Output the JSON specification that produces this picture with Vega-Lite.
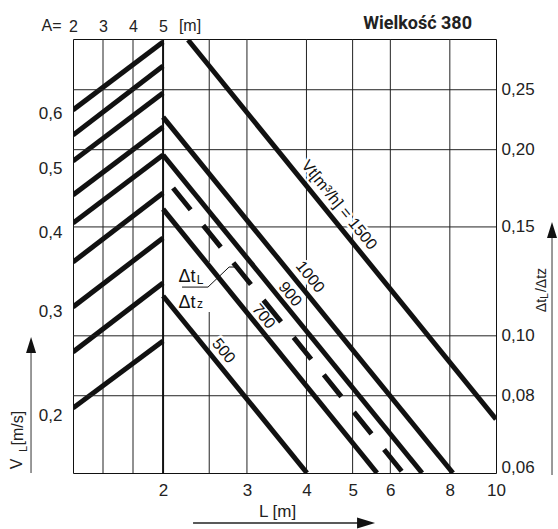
{
"$schema":"https://vega.github.io/schema/vega-lite/v6.json",
"width":423,"height":434,
"autosize":{"type":"none"},
"padding":{"left":73,"top":39,"right":62,"bottom":56},
"background":"white",
"config":{"view":{"stroke":"#111","strokeWidth":1},"axis":{"domain":false,"ticks":false,"tickSize":0,"grid":false,"labelFont":"Liberation Sans","labelFontSize":17,"labelColor":"#222","title":null}},
"resolve":{"scale":{"x":"independent","y":"independent"}},
"layer":[
{"layer":[
 {"data":{"values":[{"A":3},{"A":4}]},"mark":{"type":"rule","color":"#222","strokeWidth":1},
  "encoding":{"x":{"field":"A","type":"quantitative","scale":{"domain":[2,16.1],"nice":false,"zero":false}}}},
 {"data":{"values":[
  {"id":1,"A":2,"V":0.6075},{"id":1,"A":5,"V":0.755},
  {"id":2,"A":2,"V":0.5594},{"id":2,"A":5,"V":0.7},
  {"id":3,"A":2,"V":0.5128},{"id":3,"A":5,"V":0.642},
  {"id":4,"A":2,"V":0.4566},{"id":4,"A":5,"V":0.5745},
  {"id":5,"A":2,"V":0.414},{"id":5,"A":5,"V":0.5233},
  {"id":6,"A":2,"V":0.3601},{"id":6,"A":5,"V":0.4597},
  {"id":7,"A":2,"V":0.3051},{"id":7,"A":5,"V":0.3926},
  {"id":8,"A":2,"V":0.257},{"id":8,"A":5,"V":0.3335},
  {"id":9,"A":2,"V":0.2058},{"id":9,"A":5,"V":0.2681}]},
  "mark":{"type":"line","color":"#111","strokeWidth":5,"clip":true},
  "encoding":{
   "x":{"field":"A","type":"quantitative","scale":{"domain":[2,16.1],"nice":false,"zero":false},"axis":{"orient":"top","values":[2,3,4,5],"labelPadding":8,"labelBaseline":"alphabetic","labelFlush":false,"labelFontSize":16,"title":null}},
   "y":{"field":"V","type":"quantitative","scale":{"type":"pow","exponent":0.2,"domain":[0.157,0.762],"nice":false,"zero":false},"axis":{"orient":"left","values":[0.2,0.3,0.4,0.5,0.6],"labelExpr":"replace(format(datum.value, '.1f'), '.', ',')","labelPadding":11,"title":null}},
   "detail":{"field":"id","type":"nominal"}}},
 {"data":{"values":[{"t":"A=","A":1.283,"V":0.7813},{"t":"[m]","A":5.9,"V":0.7813}]},
  "mark":{"type":"text","font":"Liberation Sans","fontSize":16,"baseline":"alphabetic","color":"#222"},
  "encoding":{
   "x":{"field":"A","type":"quantitative","scale":{"domain":[2,16.1],"nice":false,"zero":false}},
   "y":{"field":"V","type":"quantitative","scale":{"type":"pow","exponent":0.2,"domain":[0.157,0.762],"nice":false,"zero":false}},
   "text":{"field":"t","type":"nominal"}}}
]},
{"layer":[
 {"data":{"values":[{"r":0.25},{"r":0.2},{"r":0.15},{"r":0.1},{"r":0.08}]},"mark":{"type":"rule","color":"#222","strokeWidth":1},
  "encoding":{"y":{"field":"r","type":"quantitative","scale":{"type":"log","domain":[0.06,0.302],"nice":false},"axis":{"orient":"right","values":[0.06,0.08,0.1,0.15,0.2,0.25],"labelExpr":"replace(format(datum.value, '.2f'), '.', ',')","labelPadding":5,"labelFlush":true,"labelFlushOffset":3,"title":null}}}},
 {"data":{"values":[{"L":2.5},{"L":3},{"L":4},{"L":5},{"L":6},{"L":8}]},"mark":{"type":"rule","color":"#222","strokeWidth":1},
  "encoding":{"x":{"field":"L","type":"quantitative","scale":{"type":"log","domain":[1.294,10],"nice":false},"axis":{"orient":"bottom","values":[2,3,4,5,6,8,10],"labelPadding":22,"labelBaseline":"alphabetic","labelFlush":false,"title":null}}}},
 {"data":{"values":[{"L":2}]},"mark":{"type":"rule","color":"#111","strokeWidth":2},
  "encoding":{"x":{"field":"L","type":"quantitative","scale":{"type":"log","domain":[1.294,10],"nice":false}}}},
 {"data":{"values":[{"L":2.13,"L2":2.559,"r":0.1316,"r2":0.1093}]},"mark":{"type":"rect","color":"white"},
  "encoding":{"x":{"field":"L","type":"quantitative","scale":{"type":"log","domain":[1.294,10],"nice":false}},"x2":{"field":"L2"},
   "y":{"field":"r","type":"quantitative","scale":{"type":"log","domain":[0.06,0.302],"nice":false}},"y2":{"field":"r2"}}},
 {"data":{"name":"labels","values":[{"t":"Vt[m³/h] = 1500","L":4.684,"r":0.1627},{"t":"1000","L":4.07,"r":0.1245},{"t":"900","L":3.695,"r":0.1168},{"t":"700","L":3.251,"r":0.1075},{"t":"500","L":2.68,"r":0.0945}]},
  "mark":{"type":"text","font":"Liberation Sans","fontSize":16,"angle":51,"fill":"white","stroke":"white","strokeWidth":5,"strokeJoin":"round"},
  "encoding":{"x":{"field":"L","type":"quantitative","scale":{"type":"log","domain":[1.294,10],"nice":false}},
   "y":{"field":"r","type":"quantitative","scale":{"type":"log","domain":[0.06,0.302],"nice":false}},"text":{"field":"t","type":"nominal"}}},
 {"data":{"values":[
  {"s":"1500","L":2.257,"r":0.3009},{"s":"1500","L":10,"r":0.0733},
  {"s":"1000","L":2,"r":0.2258},{"s":"1000","L":8.12,"r":0.06},
  {"s":"900","L":2,"r":0.1961},{"s":"900","L":6.996,"r":0.06},
  {"s":"700","L":2,"r":0.1603},{"s":"700","L":5.627,"r":0.06},
  {"s":"500","L":2,"r":0.116},{"s":"500","L":4.01,"r":0.06}]},
  "mark":{"type":"line","color":"#111","strokeWidth":5,"clip":true},
  "encoding":{"x":{"field":"L","type":"quantitative","scale":{"type":"log","domain":[1.294,10],"nice":false}},
   "y":{"field":"r","type":"quantitative","scale":{"type":"log","domain":[0.06,0.302],"nice":false}},"detail":{"field":"s","type":"nominal"}}},
 {"data":{"values":[{"L":2.099,"r":0.1734},{"L":6.38,"r":0.06}]},
  "mark":{"type":"line","color":"#111","strokeWidth":5,"strokeDash":[28,20],"clip":true},
  "encoding":{"x":{"field":"L","type":"quantitative","scale":{"type":"log","domain":[1.294,10],"nice":false}},
   "y":{"field":"r","type":"quantitative","scale":{"type":"log","domain":[0.06,0.302],"nice":false}}}},
 {"data":{"values":[{"o":1,"L":2.192,"r":0.1199},{"o":2,"L":2.485,"r":0.1199},{"o":3,"L":2.752,"r":0.1292},{"o":4,"L":2.846,"r":0.1292}]},
  "mark":{"type":"line","color":"#111","strokeWidth":1},
  "encoding":{"x":{"field":"L","type":"quantitative","scale":{"type":"log","domain":[1.294,10],"nice":false}},
   "y":{"field":"r","type":"quantitative","scale":{"type":"log","domain":[0.06,0.302],"nice":false}},"order":{"field":"o"}}},
 {"data":{"values":[{"L":1.0564,"r":0.09488,"r2":0.06},{"L":13.11,"r":0.14501,"r2":0.05955}]},
  "mark":{"type":"rule","color":"#777","strokeWidth":1.5},
  "encoding":{"x":{"field":"L","type":"quantitative","scale":{"type":"log","domain":[1.294,10],"nice":false}},
   "y":{"field":"r","type":"quantitative","scale":{"type":"log","domain":[0.06,0.302],"nice":false}},"y2":{"field":"r2"}}},
 {"data":{"values":[{"L":2.312,"L2":5.3,"r":0.0498}]},
  "mark":{"type":"rule","color":"#222","strokeWidth":1.5},
  "encoding":{"x":{"field":"L","type":"quantitative","scale":{"type":"log","domain":[1.294,10],"nice":false}},"x2":{"field":"L2"},
   "y":{"field":"r","type":"quantitative","scale":{"type":"log","domain":[0.06,0.302],"nice":false}}}},
 {"data":{"values":[{"L":1.0564,"r":0.09594},{"L":13.11,"r":0.14719}]},
  "mark":{"type":"point","shape":"M0,-1L0.5,0.6L-0.5,0.6Z","size":400,"filled":true,"color":"#111","opacity":1},
  "encoding":{"x":{"field":"L","type":"quantitative","scale":{"type":"log","domain":[1.294,10],"nice":false}},
   "y":{"field":"r","type":"quantitative","scale":{"type":"log","domain":[0.06,0.302],"nice":false}}}},
 {"data":{"values":[{"L":5.362,"r":0.0498}]},
  "mark":{"type":"point","shape":"M-1,-0.55L0.8,0L-1,0.55Z","size":400,"filled":true,"color":"#111","opacity":1},
  "encoding":{"x":{"field":"L","type":"quantitative","scale":{"type":"log","domain":[1.294,10],"nice":false}},
   "y":{"field":"r","type":"quantitative","scale":{"type":"log","domain":[0.06,0.302],"nice":false}}}},
 {"data":{"name":"labels"},
  "mark":{"type":"text","font":"Liberation Sans","fontSize":16,"angle":51,"color":"#111"},
  "encoding":{"x":{"field":"L","type":"quantitative","scale":{"type":"log","domain":[1.294,10],"nice":false}},
   "y":{"field":"r","type":"quantitative","scale":{"type":"log","domain":[0.06,0.302],"nice":false}},"text":{"field":"t","type":"nominal"}}},
 {"data":{"values":[{"t":"Δt","L":2.246,"r":0.12217},{"t":"Δt","L":2.246,"r":0.11092}]},
  "mark":{"type":"text","font":"Liberation Sans","fontSize":18,"baseline":"alphabetic","color":"#111"},
  "encoding":{"x":{"field":"L","type":"quantitative","scale":{"type":"log","domain":[1.294,10],"nice":false}},
   "y":{"field":"r","type":"quantitative","scale":{"type":"log","domain":[0.06,0.302],"nice":false}},"text":{"field":"t","type":"nominal"}}},
 {"data":{"values":[{"t":"L","L":2.392,"r":0.12149},{"t":"z","L":2.392,"r":0.11092}]},
  "mark":{"type":"text","font":"Liberation Sans","fontSize":12,"baseline":"alphabetic","color":"#111"},
  "encoding":{"x":{"field":"L","type":"quantitative","scale":{"type":"log","domain":[1.294,10],"nice":false}},
   "y":{"field":"r","type":"quantitative","scale":{"type":"log","domain":[0.06,0.302],"nice":false}},"text":{"field":"t","type":"nominal"}}},
 {"data":{"values":[{"t":"V","L":0.9876,"r":0.06204},{"t":"[m/s]","L":0.99,"r":0.07092}]},
  "mark":{"type":"text","font":"Liberation Sans","fontSize":16,"angle":270,"color":"#222"},
  "encoding":{"x":{"field":"L","type":"quantitative","scale":{"type":"log","domain":[1.294,10],"nice":false}},
   "y":{"field":"r","type":"quantitative","scale":{"type":"log","domain":[0.06,0.302],"nice":false}},"text":{"field":"t","type":"nominal"}}},
 {"data":{"values":[{"t":"L","L":1.019,"r":0.06561}]},
  "mark":{"type":"text","font":"Liberation Sans","fontSize":11,"angle":270,"color":"#222"},
  "encoding":{"x":{"field":"L","type":"quantitative","scale":{"type":"log","domain":[1.294,10],"nice":false}},
   "y":{"field":"r","type":"quantitative","scale":{"type":"log","domain":[0.06,0.302],"nice":false}},"text":{"field":"t","type":"nominal"}}},
 {"data":{"values":[{"t":"Δt","L":12.49,"r":0.11195},{"t":"/Δtz","L":12.49,"r":0.12308}]},
  "mark":{"type":"text","font":"Liberation Sans","fontSize":14,"angle":270,"color":"#222"},
  "encoding":{"x":{"field":"L","type":"quantitative","scale":{"type":"log","domain":[1.294,10],"nice":false}},
   "y":{"field":"r","type":"quantitative","scale":{"type":"log","domain":[0.06,0.302],"nice":false}},"text":{"field":"t","type":"nominal"}}},
 {"data":{"values":[{"t":"L","L":12.67,"r":0.11599}]},
  "mark":{"type":"text","font":"Liberation Sans","fontSize":10,"angle":270,"color":"#222"},
  "encoding":{"x":{"field":"L","type":"quantitative","scale":{"type":"log","domain":[1.294,10],"nice":false}},
   "y":{"field":"r","type":"quantitative","scale":{"type":"log","domain":[0.06,0.302],"nice":false}},"text":{"field":"t","type":"nominal"}}},
 {"data":{"values":[{"t":"L [m]","L":3.479,"r":0.05092}]},
  "mark":{"type":"text","font":"Liberation Sans","fontSize":17,"baseline":"alphabetic","color":"#222"},
  "encoding":{"x":{"field":"L","type":"quantitative","scale":{"type":"log","domain":[1.294,10],"nice":false}},
   "y":{"field":"r","type":"quantitative","scale":{"type":"log","domain":[0.06,0.302],"nice":false}},"text":{"field":"t","type":"nominal"}}},
 {"data":{"values":[{"t":"Wielkość 380","L":8.906,"r":0.3131}]},
  "mark":{"type":"text","font":"Roboto","fontSize":18,"fontWeight":"bold","align":"right","baseline":"alphabetic","color":"#222"},
  "encoding":{"x":{"field":"L","type":"quantitative","scale":{"type":"log","domain":[1.294,10],"nice":false}},
   "y":{"field":"r","type":"quantitative","scale":{"type":"log","domain":[0.06,0.302],"nice":false}},"text":{"field":"t","type":"nominal"}}}
]}
]
}
